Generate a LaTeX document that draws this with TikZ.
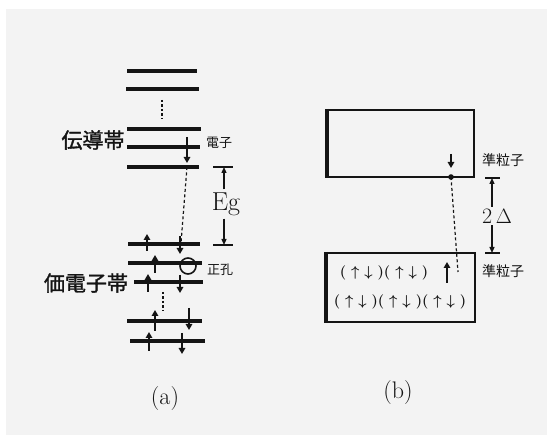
\documentclass[tikz,border=0pt]{standalone}
\usepackage{fontspec}
\usetikzlibrary{arrows.meta}
\newfontfamily\cjk[AutoFakeBold=1.5]{Noto Sans CJK JP}
\definecolor{ink}{HTML}{141414}
\definecolor{bg}{HTML}{F3F3F3}
\tikzset{
  level/.style={line width=3.2pt, draw=ink},
  spin/.style={line width=2pt, draw=ink, -{Triangle[length=6pt,width=6.5pt]}},
  dots/.style={line width=2.4pt, draw=ink, dash pattern=on 2.2pt off 2.3pt},
  conn/.style={line width=1.2pt, draw=ink, dash pattern=on 3pt off 2.5pt},
  gap/.style={line width=1.3pt, draw=ink, -{Triangle[length=6pt,width=5pt]}},
  bar/.style={line width=1.3pt, draw=ink},
  bigcjk/.style={text=ink, inner sep=0pt, font=\cjk\bfseries\fontsize{21}{24}\selectfont},
  smallcjk/.style={text=ink, inner sep=0pt, font=\cjk\fontsize{13}{15}\selectfont},
  box/.style={line width=1.8pt, draw=ink},
  lbl/.style={text=ink, inner sep=0pt},
  rowtxt/.style={text=ink, inner sep=0pt, font=\boldmath\fontsize{15}{18}\selectfont}
}
\begin{document}
\begin{tikzpicture}[x=1pt,y=-1pt]
\useasboundingbox (0,0) rectangle (547,435);
\fill[bg] (6,9) rectangle (547,435);

% ---------- panel (a): conduction band ----------
\draw[level] (127,71) -- (197,71);
\draw[level] (126,89) -- (199,89);
\draw[dots] (162,100) -- (162,119);
\draw[level] (127,129) -- (201,129);
\draw[level] (127,147) -- (200,147);
\draw[level] (127,167) -- (199,167);
\node[bigcjk] (cb) at (93,140) {伝導帯};
\node[smallcjk] (el) at (219,143) {電子};
\coordinate (eltop) at (187,137);
\coordinate (elbot) at (187,163);
\draw[spin] (eltop) -- (elbot);

% ---------- panel (a): valence band ----------
\draw[level] (128,244) -- (200,244);
\draw[level] (128,263) -- (202,263);
\draw[level] (134,282) -- (203,282);
\draw[dots] (163,292) -- (163,311);
\draw[level] (127,321) -- (202,321);
\draw[level] (130,341) -- (205,341);
\node[bigcjk] (vb) at (86,283) {価電子帯};
\node[smallcjk] (hl) at (220,270) {正孔};

% spins
\draw[spin] (147,251) -- (147,234);
\draw[spin] (180,236) -- (180,254);
\draw[spin] (155,273) -- (155,255);
\draw[spin] (148,292) -- (148,274);
\draw[spin] (180,275) -- (180,293);
\draw[spin] (155,331) -- (155,310);
\draw[spin] (189,308) -- (189,330);
\draw[spin] (149,351) -- (149,332);
\draw[spin] (182,333) -- (182,354);

% hole
\node[draw=ink, line width=1.6pt, circle, minimum size=16pt, inner sep=0pt] (hole) at (188,266) {};

% excitation path
\coordinate (exa) at (187,167);
\coordinate (exb) at (181,243);
\draw[conn] (exa) -- (exb);

% Eg
\node[lbl, font=\fontsize{26}{30}\selectfont] (eg) at (226,204) {Eg};
\coordinate (egt) at (224,167);
\coordinate (egb) at (224,245);
\draw[bar] (213,167) -- (233,167);
\draw[bar] (213,245) -- (233,245);
\draw[gap] (eg.north -| egt) ++(0,-3) -- (egt);
\draw[gap] (eg.south -| egb) ++(0,3) -- (egb);

\node[lbl, font=\fontsize{24}{28}\selectfont] (la) at (165,399) {(a)};

% ---------- panel (b) ----------
\draw[box] (327,110) rectangle (474,177);
\draw[line width=3.4pt, draw=ink] (327,109) -- (327,178);
\draw[spin] (451,154) -- (451,168);
\coordinate (qp) at (451,177);
\fill[ink] (qp) circle (2.8pt);

\draw[box] (326,253) rectangle (475,322);
\draw[line width=3.4pt, draw=ink] (326,252) -- (326,323);

\node[rowtxt] (row1) at (384,273) {$(\hspace{5pt}\uparrow\hspace{5pt}\downarrow\hspace{5pt})(\hspace{5pt}\uparrow\hspace{5pt}\downarrow\hspace{5pt})$};
\node[rowtxt] (row2) at (400,302) {$(\hspace{5pt}\uparrow\hspace{5pt}\downarrow\hspace{5pt})(\hspace{5pt}\uparrow\hspace{5pt}\downarrow\hspace{5pt})(\hspace{5pt}\uparrow\hspace{5pt}\downarrow\hspace{5pt})$};
\draw[spin, line width=2.8pt] (447,283) -- (447,262);
\coordinate (qh) at (458,272);
\draw[conn] (qp) -- (qh);

\node[smallcjk, font=\cjk\fontsize{14}{16}\selectfont] (qp1) at (503,160) {準粒子};
\node[smallcjk, font=\cjk\fontsize{14}{16}\selectfont] (qp2) at (503,271) {準粒子};

\node[lbl, font=\fontsize{22}{26}\selectfont] (dl) at (497,216) {2\,$\Delta$};
\coordinate (dt) at (492,178);
\coordinate (db) at (492,253);
\draw[bar] (485,178) -- (500,178);
\draw[bar] (485,253) -- (500,253);
\draw[gap] (dl.north -| dt) ++(0,-2) -- (dt);
\draw[gap] (dl.south -| db) ++(0,2) -- (db);

\node[lbl, font=\fontsize{24}{28}\selectfont] (lb) at (398,393) {(b)};
\end{tikzpicture}
\end{document}
